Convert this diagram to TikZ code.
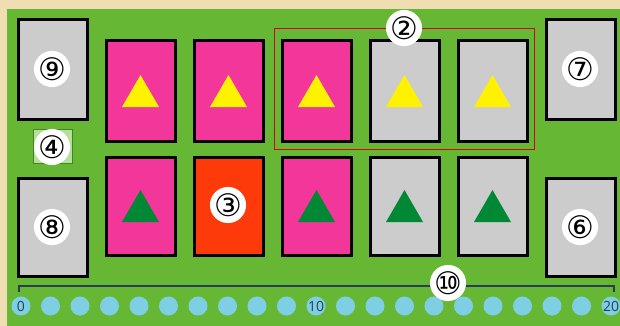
\documentclass[tikz,border=0pt]{standalone}
\usepackage{fontspec}
\newfontfamily\symfont{DejaVu Sans}
\setsansfont{Open Sans}
\definecolor{parch}{RGB}{240,222,178}
\definecolor{board}{RGB}{102,184,52}
\definecolor{cardpink}{RGB}{242,54,154}
\definecolor{cardgray}{RGB}{204,204,204}
\definecolor{cardred}{RGB}{255,58,10}
\definecolor{trigreen}{RGB}{0,136,52}
\definecolor{dotblue}{RGB}{127,207,228}
\definecolor{rulenavy}{RGB}{45,58,90}
\definecolor{tilegreen}{RGB}{180,224,156}
\definecolor{tileedge}{RGB}{70,130,40}
\tikzset{
  card/.style={draw=black, line width=3pt},
  numlabel/.style={circle, fill=white, inner sep=0pt, minimum size=29pt, font=\symfont\fontsize{31}{31}\selectfont},
  dotlabel/.style={font=\sffamily\fontsize{14}{14}\selectfont, text=rulenavy}
}
\begin{document}
\begin{tikzpicture}[x=1pt, y=-1pt]
			\def\W{69}   % card width
			\def\H{100}  % card height
			\def\T{37}   % triangle width
			\def\D{29.5} % dot spacing
			\useasboundingbox (0,0) rectangle (620,326);
			\fill[parch] (0,0) rectangle (620,326);
			\fill[board] (7,9) rectangle (620,326);
			% side cards
			\draw[card, fill=cardgray] (18,20) rectangle (87,119);
			\draw[card, fill=cardgray] (546,20) rectangle (615,119);
			\draw[card, fill=cardgray] (18,178) rectangle (87,276);
			\draw[card, fill=cardgray] (546,178) rectangle (615,276);
			\draw[tileedge, fill=tilegreen, line width=1pt] (33,129) rectangle (72,163);
			% top row
			\foreach \x/\c in {106/cardpink, 194/cardpink, 282/cardpink, 370/cardgray, 458/cardgray} {
				\draw[card, fill=\c] (\x,41) rectangle (\x+\W,141);
				\fill[yellow] (\x+\W/2-\T/2,107) -- (\x+\W/2+\T/2,107) -- (\x+\W/2,75) -- cycle;
			}
			% bottom row
			\foreach \x/\c in {106/cardpink, 194/cardred, 282/cardpink, 370/cardgray, 458/cardgray} {
				\draw[card, fill=\c] (\x,157) rectangle (\x+\W,255);
			}
			\foreach \x in {106, 282, 370, 458} {
				\fill[trigreen] (\x+\W/2-\T/2,222) -- (\x+\W/2+\T/2,222) -- (\x+\W/2,190) -- cycle;
			}
			\draw[red!85!black, line width=1pt] (274,29) rectangle (534,149);
			% score track
			\draw[rulenavy, line width=1.6pt] (19,292) -- (19,286) -- (614,286) -- (614,292);
			\foreach \i in {0,...,20} {
				\fill[dotblue] (21+\D*\i,306) circle (9.5);
			}
			\node[dotlabel] (s0) at (21,306) {0};
			\node[dotlabel] (s10) at (21+10*\D,306) {10};
			\node[dotlabel] (s20) at (21+20*\D,306) {20};
			% labels
			\node[numlabel] (n9) at (52,69) {⑨};
			\node[numlabel] (n7) at (580,69) {⑦};
			\node[numlabel] (n4) at (52,147) {④};
			\node[numlabel] (n8) at (52,227) {⑧};
			\node[numlabel] (n6) at (580,227) {⑥};
			\node[numlabel] (n3) at (228,205) {③};
			\node[numlabel] (n2) at (404,28) {②};
			\node[numlabel] (n10) at (448,283) {⑩};
		\end{tikzpicture}
\end{document}
